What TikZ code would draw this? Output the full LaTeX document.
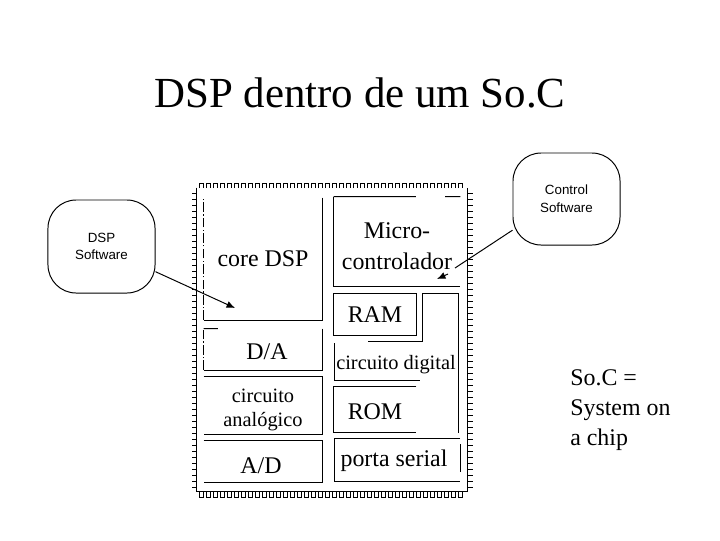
\documentclass[tikz,border=0pt]{standalone}
\usepackage{fontspec}
\setmainfont{Liberation Serif}
\setsansfont{Liberation Sans}
\usetikzlibrary{arrows.meta,positioning,calc}
\tikzset{
blockbox/.style={inner sep=0pt,align=center,font=\fontsize{17}{21}\selectfont},
softbox/.style={draw,line width=0.7pt,rounded corners=20pt,inner sep=0pt,align=center,font=\sffamily\fontsize{9.5}{12.5}\selectfont},
wire/.style={line width=0.7pt},
pin/.style={line width=0.5pt},
tip/.style={-{Latex[length=6pt,width=5pt]}}
}

\begin{document}
\begin{tikzpicture}[x=0.025cm,y=-0.025cm]
\useasboundingbox (0,0) rectangle (720,540);

% -------- Title --------
\node[font=\fontsize{30.5}{36}\selectfont] (title) at (360,93) {DSP dentro de um So.C};

% -------- Chip outline and pins --------
\node[inner sep=0pt,minimum width=6.75cm,minimum height=7.575cm] (chip) at (332,339.5) {};
\draw[wire] (chip.north west) -- (chip.south west) -- (chip.south east) -- (chip.north east);
\foreach \x in {199,206,...,462} {
\draw[pin] (\x,188) -- (\x,183) -- (\x+4,183) -- (\x+4,188);
\draw[pin] (\x,491) -- (\x,497) -- (\x+4,497) -- (\x+4,491);
}
\foreach \y in {193,199,...,487} {
\draw[pin] (192,\y) -- (197,\y);
\draw[pin] (467,\y) -- (473,\y);
}

% -------- Left column --------
\node[blockbox,minimum width=2.95cm,minimum height=3.05cm] (core) at (263,259) {core DSP};
\draw[wire] (core.north east) -- (core.south east) -- (core.south west);
\draw[wire,dash pattern=on 7pt off 1.5pt on 1pt off 1.5pt] (core.south west) -- (core.north west);

\node[blockbox,minimum width=2.95cm,minimum height=1.025cm] (da) at (263,349.5) {\rule{0pt}{14pt}\,\,D/A};
\draw[wire] (da.north east) -- (da.south east) -- (da.south west);
\draw[wire,dash pattern=on 7pt off 1.5pt on 1pt off 1.5pt] (da.south west) -- (da.north west);
\draw[wire] (da.north west) -- ($(da.north west)!.12!(da.north east)$);

\node[blockbox,font=\fontsize{14.5}{16.5}\selectfont,minimum width=2.95cm,minimum height=1.425cm] (analog) at (263,405.5) {\rule{0pt}{16pt}circuito\\anal\'ogico};
\draw[wire] (analog.north west) -- (analog.north east) -- (analog.south east) -- (analog.south west);

\node[blockbox,minimum width=2.95cm,minimum height=1.025cm] (ad) at (263,461.5) {\rule{0pt}{17pt}A/D\,};
\draw[wire] (ad.north west) -- (ad.north east) -- (ad.south east) -- (ad.south west);

% -------- Right column --------
\node[blockbox,font=\fontsize{17}{21.5}\selectfont,minimum width=3.15cm,minimum height=2.225cm] (micro) at (397,241.5) {\rule{0pt}{18pt}Micro-\\controlador};
\draw[wire] (micro.north west) -- (micro.south west) -- (micro.south east);
\draw[wire] (micro.north west) -- ($(micro.north west)!.65!(micro.north east)$);
\draw[wire] ($(micro.north west)!.88!(micro.north east)$) -- (micro.north east);

\node[blockbox,minimum width=2.05cm,minimum height=1.025cm] (ram) at (375,314.5) {RAM};
\draw[wire] (ram.north west) rectangle (ram.south east);

\coordinate (digtop) at (422,293);
\coordinate (digright) at (458,293);
\coordinate (digend) at (458,433);
\coordinate (digin) at (422,341);
\coordinate (diginleft) at (368,341);
\coordinate (digleft) at (334,343);
\coordinate (digbot) at (334,380);
\coordinate (digbotend) at (420,380);
\draw[wire] (digend) -- (digright) -- (digtop) -- (digin) -- (diginleft);
\draw[wire] (digleft) -- (digbot) -- (digbotend);
\node[blockbox,font=\fontsize{14.5}{18}\selectfont] (digital) at (396,365) {circuito digital};

\node[blockbox,minimum width=2.05cm,minimum height=1.125cm] (rom) at (375,409.5) {\rule{0pt}{14pt}ROM};
\draw[wire] (rom.north east) -- (rom.north west) -- (rom.south west) -- (rom.south east);

\node[blockbox,minimum width=3.15cm,minimum height=1.075cm] (serial) at (394,459.5) {\rule{0pt}{13pt}porta serial};
\coordinate (serialnw) at (334,438);
\coordinate (serialne) at (460,438);
\coordinate (serialsw) at (334,481);
\coordinate (serialse) at (460,481);
\coordinate (serialgap) at (460,444);
\coordinate (serialgapend) at (460,472);
\draw[wire] (serialne) -- (serialnw) -- (serialsw) -- (serialse);
\draw[wire] (serialgap) -- (serialgapend);

% -------- Software boxes --------
\node[softbox,minimum width=2.675cm,minimum height=2.325cm] (dspsw) at (101.5,246.5) {DSP\\Software};
\node[softbox,minimum width=2.675cm,minimum height=2.3cm] (ctrlsw) at (566.5,199) {Control\\Software};

\coordinate (dsptip) at (235,308);
\draw[wire,tip] (dspsw.-25) -- (dsptip);

\coordinate (ctrlend) at (455,268);
\coordinate (ctrlstart) at (448,274);
\coordinate (ctrltip) at (437,279);
\draw[wire] (ctrlsw.210) -- (ctrlend);
\draw[wire,tip] (ctrlstart) -- (ctrltip);

% -------- Note --------
\node[blockbox,align=left,anchor=west,font=\fontsize{17}{21.3}\selectfont] (note) at (570,410) {So.C =\\System on\\a chip};

\end{tikzpicture}
\end{document}
